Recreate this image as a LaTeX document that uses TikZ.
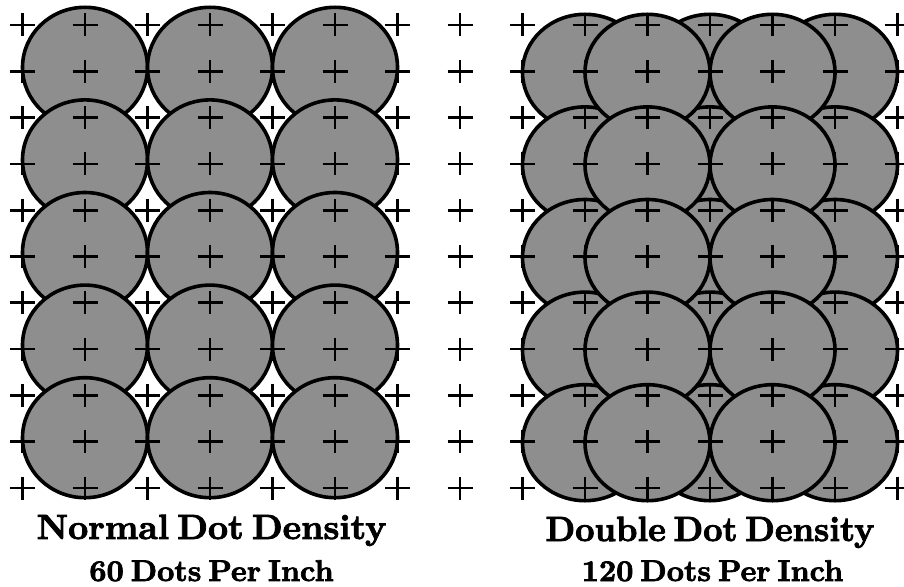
\documentclass[tikz,border=0pt]{standalone}
\usepackage{fontspec}
\newfontfamily\labfont{lmroman10-bold.otf}[FakeBold=2.4, WordSpace=0.6]
\definecolor{dotgray}{HTML}{8E8E8E}
\tikzset{
  dotdisk/.style={fill=dotgray, draw=black, line width=3.6pt},
  plusmark/.style={draw=black, line width=2.7pt},
  bigtitle/.style={font=\labfont\fontsize{35}{40}\selectfont, anchor=base, inner sep=0pt},
  subtitle/.style={font=\labfont\fontsize{30}{34}\selectfont, anchor=base, inner sep=0pt}
}
\begin{document}
\begin{tikzpicture}[x=1pt, y=-1pt]
\useasboundingbox (0,0) rectangle (904,586);
\fill[white] (0,0) rectangle (904,586);
% left panel: 3 x 5 dots, rows drawn top to bottom
\foreach \j in {0,...,4}{
  \pgfmathsetmacro{\cy}{25+46.3*(2*\j+1)-4}
  \foreach \cx in {85,210,335}{
    \filldraw[dotdisk] (\cx,\cy) ellipse [x radius=62.5, y radius=60];
  }
}
% right panel: back dots, then front dots
\foreach \j in {0,...,4}{
  \pgfmathsetmacro{\cy}{25+46.3*(2*\j+1)+1}
  \foreach \cx in {585,710,835}{
    \filldraw[dotdisk] (\cx,\cy) ellipse [x radius=62.5, y radius=58];
  }
}
\foreach \j in {0,...,4}{
  \pgfmathsetmacro{\cy}{25+46.3*(2*\j+1)+1}
  \foreach \cx in {647.5,772.5}{
    \filldraw[dotdisk] (\cx,\cy) ellipse [x radius=62.5, y radius=58];
  }
}
% grid of plus marks
\foreach \k in {0,...,14}{
  \foreach \r in {0,...,10}{
    \pgfmathsetmacro{\px}{22.5+62.5*\k}
    \pgfmathsetmacro{\py}{25+46.3*\r}
    \draw[plusmark] (\px-12.5,\py) -- (\px+12.5,\py) (\px,\py-11.5) -- (\px,\py+11.5);
  }
}
% labels
\node[bigtitle] (ntitle) at (211.5,539) {Normal Dot Density};
\node[subtitle] (nsub) at (211.5,581) {60 Dots Per Inch};
\node[bigtitle] (dtitle) at (710,541) {\scalebox{0.96}[1]{Double Dot Density}};
\node[subtitle] (dsub) at (712.5,581) {120 Dots Per Inch};
\end{tikzpicture}
\end{document}
